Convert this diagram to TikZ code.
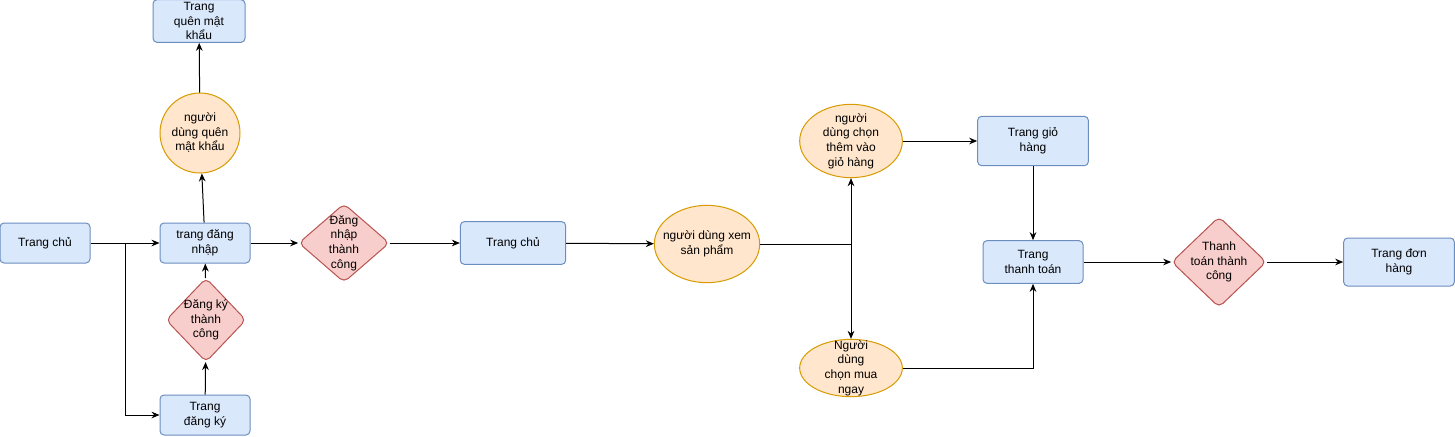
\documentclass[tikz,border=0pt]{standalone}
\usepackage{fontspec}
\setmainfont{Liberation Sans}
\usetikzlibrary{shapes.geometric,arrows.meta}
\definecolor{pagefill}{HTML}{DAE8FC}
\definecolor{pageline}{HTML}{6C8EBF}
\definecolor{actfill}{HTML}{FFE6CC}
\definecolor{actline}{HTML}{D79B00}
\definecolor{okfill}{HTML}{F8CECC}
\definecolor{okline}{HTML}{B85450}
% text that may run over the border of its shape
\newcommand{\midtext}[1]{\smash{\makebox[0pt]{\raisebox{-2.5pt}{\begin{tabular}{@{}c@{}}#1\end{tabular}}}}}
\tikzset{
  txt/.style={align=center,font=\fontsize{9}{11}\selectfont,inner sep=1pt},
  page/.style={txt,draw=pageline,fill=pagefill,rounded corners=3pt,line width=0.75pt},
  act/.style={txt,ellipse,draw=actline,fill=actfill,line width=0.75pt,inner sep=0pt},
  okstep/.style={txt,diamond,draw=okline,fill=okfill,rounded corners=4pt,line width=0.75pt,inner sep=0pt},
  arr/.style={-{Stealth[length=6pt,width=5pt]},line width=0.75pt}
}
\begin{document}
\begin{tikzpicture}[x=0.75pt,y=-0.75pt]
\useasboundingbox (0,0) rectangle (1455,436);
% left part: login
\node[page,minimum width=67.5pt,minimum height=30pt] (home1) at (45,243) {Trang chủ};
\node[page,minimum width=67.5pt,minimum height=30pt] (login) at (205,243) {trang đăng\\nhập};
\node[page,minimum width=69pt,minimum height=32pt] (forgot) at (199,21) {Trang\\quên mật\\khẩu};
\node[act,circle,minimum size=60pt] (forgotq) at (200,133) {\midtext{người\\dùng quên\\mật khẩu}};
\node[okstep,minimum width=60pt,minimum height=63pt] (regok) at (206,320) {\midtext{Đăng ký\\thành\\công}};
\node[page,minimum width=67.5pt,minimum height=30pt] (reg) at (205,415) {Trang\\đăng ký};
\node[okstep,minimum width=68pt,minimum height=59pt] (loginok) at (344,243) {\midtext{Đăng\\nhập\\thành\\công}};
% middle part: products
\node[page,minimum width=79pt,minimum height=32pt] (home2) at (513,243) {Trang chủ};
\node[act,minimum width=79pt,minimum height=58pt] (view) at (707,244) {\midtext{người dùng xem\\sản phẩm}};
\node[act,minimum width=77pt,minimum height=55pt] (addcart) at (851,141) {\midtext{người\\dùng chọn\\thêm vào\\giỏ hàng}};
\node[act,minimum width=77pt,minimum height=43pt] (buynow) at (851,368) {\midtext{Người\\dùng\\chọn mua\\ngay}};
% right part: payment
\node[page,minimum width=83pt,minimum height=37pt] (cart) at (1033,141) {Trang giỏ\\hàng};
\node[page,minimum width=75pt,minimum height=32pt] (pay) at (1033,262) {Trang\\thanh toán};
\node[okstep,minimum width=71pt,minimum height=68pt] (payok) at (1219,262) {\midtext{Thanh\\toán thành\\công}};
\node[page,minimum width=83pt,minimum height=36pt] (orders) at (1399,262) {Trang đơn\\hàng};
\coordinate (split1) at (125,243);
\coordinate (split2) at (851,244);
\draw[arr] (home1) -- (login);
\draw[arr] (split1) |- (reg);
\draw[arr] (login) -- (forgotq);
\draw[arr] (forgotq) -- (forgot);
\draw[arr] (reg) -- (regok);
\draw[arr] (regok) -- (login);
\draw[arr] (login) -- (loginok);
\draw[arr] (loginok) -- (home2);
\draw[arr] (home2) -- (view);
\draw[line width=0.75pt] (view) -- (split2);
\draw[arr] (split2) -- (addcart);
\draw[arr] (split2) -- (buynow);
\draw[arr] (addcart) -- (cart);
\draw[arr] (cart) -- (pay);
\draw[arr] (buynow) -| (pay);
\draw[arr] (pay) -- (payok);
\draw[arr] (payok) -- (orders);
\end{tikzpicture}
\end{document}
